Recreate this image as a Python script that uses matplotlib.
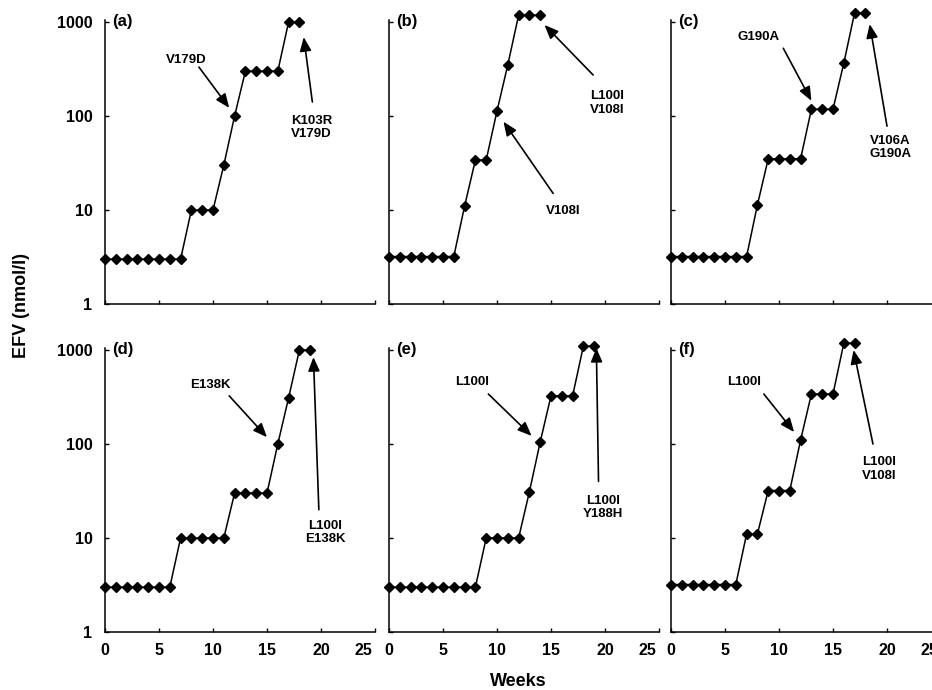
import matplotlib.pyplot as plt
from matplotlib.ticker import NullLocator
from matplotlib.transforms import ScaledTranslation

plt.rcParams['font.family'] = ['Liberation Sans', 'DejaVu Sans']
plt.rcParams['font.weight'] = 'bold'

# EFV concentration (nmol/l) per week, one list per panel
efv_a = [3, 3, 3, 3, 3, 3, 3, 3, 10, 10, 10, 30, 100, 300, 300, 300, 300, 1000, 1000]
efv_b = [3.2, 3.2, 3.2, 3.2, 3.2, 3.2, 3.2, 11, 34, 34, 113, 350, 1180, 1180, 1180]
efv_c = [3.2, 3.2, 3.2, 3.2, 3.2, 3.2, 3.2, 3.2, 11.3, 35, 35, 35, 35, 118, 118, 118, 365, 1250, 1250]
efv_d = [3, 3, 3, 3, 3, 3, 3, 10, 10, 10, 10, 10, 30, 30, 30, 30, 100, 310, 1000, 1000]
efv_e = [3, 3, 3, 3, 3, 3, 3, 3, 3, 10, 10, 10, 10, 31, 105, 325, 325, 325, 1100, 1100]
efv_f = [3.2, 3.2, 3.2, 3.2, 3.2, 3.2, 3.2, 11, 11, 32, 32, 32, 110, 340, 340, 340, 1180, 1180]

panel_labels = ['(a)', '(b)', '(c)', '(d)', '(e)', '(f)']
x_ticks = [0, 5, 10, 15, 20, 25]
y_ticks = [1, 10, 100, 1000]
y_ticklabels = ['1', '10', '100', '1000']

# mutation notes: (text, arrow head, arrow tail, text centre) in data coords
notes_a = [('V179D', (11.5, 122), (8.7, 331), (7.5, 396)),
           ('K103R\nV179D', (18.4, 690), (19.2, 141), (19.1, 76))]
notes_b = [('L100I\nV108I', (14.4, 930), (18.9, 273), (20.2, 138)),
           ('V108I', (10.6, 87), (15.2, 15), (16.1, 9.8))]
notes_c = [('G190A', (13.0, 145), (10.4, 525), (8.1, 690)),
           ('V106A\nG190A', (18.4, 950), (20.0, 78), (20.3, 46))]
notes_d = [('E138K', (15.0, 118), (11.5, 325), (9.8, 425)),
           ('L100I\nE138K', (19.3, 840), (19.8, 20), (20.4, 11.5))]
notes_e = [('L100I', (13.2, 122), (9.2, 340), (7.7, 455)),
           ('L100I\nY188H', (19.2, 1050), (19.4, 40), (19.8, 21))]
notes_f = [('L100I', (11.4, 134), (8.6, 340), (6.8, 457)),
           ('L100I\nV108I', (16.9, 1000), (18.7, 100), (19.3, 54))]

series = [efv_a, efv_b, efv_c, efv_d, efv_e, efv_f]
notes = [notes_a, notes_b, notes_c, notes_d, notes_e, notes_f]

fig = plt.figure(figsize=(9.32, 6.9), dpi=100)

lefts = [105, 389, 671]
bottoms = [304, 632]
for i in range(6):
    row, col = divmod(i, 3)
    ax = fig.add_axes([lefts[col] / 932, 1 - bottoms[row] / 690, 270 / 932, 284 / 690])
    vals = series[i]
    weeks = list(range(len(vals)))
    ax.plot(weeks, vals, color='black', lw=1.1, marker='D', markersize=5, clip_on=False)

    ax.set_yscale('log')
    ax.set_xlim(0, 25)
    ax.set_ylim(1, 1050)
    ax.set_xticks(x_ticks)
    ax.set_yticks(y_ticks)
    ax.yaxis.set_minor_locator(NullLocator())
    ax.tick_params(direction='in', length=3, width=1, labelsize=11.5)
    ax.tick_params(axis='x', pad=8)
    ax.tick_params(axis='y', pad=9)
    if col == 0:
        ax.set_yticklabels(y_ticklabels)
    else:
        ax.set_yticklabels([])
    if row == 1:
        ax.set_xticklabels([str(t) for t in x_ticks])
        # the last week label sits a little left of its tick in the original
        last = ax.xaxis.get_major_ticks()[-1].label1
        last.set_transform(last.get_transform() + ScaledTranslation(-0.12, 0, fig.dpi_scale_trans))
    else:
        ax.set_xticklabels([])
    for side in ['top', 'right']:
        ax.spines[side].set_visible(False)
    for side in ['left', 'bottom']:
        ax.spines[side].set_linewidth(1.1)

    ax.text(0.026, 1.02, panel_labels[i], transform=ax.transAxes, ha='left', va='top', fontsize=12)

    for label, head, tail, pos in notes[i]:
        ax.annotate('', xy=head, xytext=tail,
                    arrowprops=dict(arrowstyle='-|>,head_length=0.6,head_width=0.25',
                                    color='black', lw=1.2, mutation_scale=14,
                                    shrinkA=0, shrinkB=0))
        ax.text(pos[0], pos[1], label, ha='center', va='center', fontsize=9.5, linespacing=1.15)

fig.text(22 / 932, 1 - 306 / 690, 'EFV (nmol/l)', rotation=90, ha='center', va='center', fontsize=13)
fig.text(518 / 932, 1 - 681 / 690, 'Weeks', ha='center', va='center', fontsize=13)

fig.savefig('out.png', dpi=100)
